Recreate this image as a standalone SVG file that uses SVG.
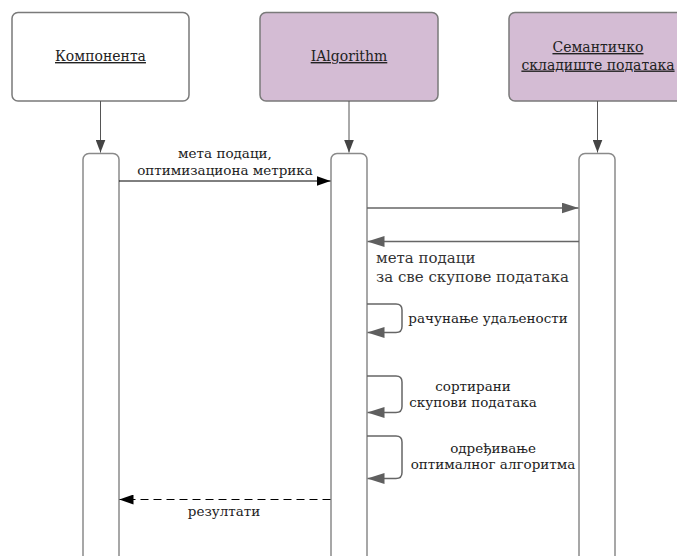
<svg xmlns="http://www.w3.org/2000/svg" width="677" height="556" viewBox="0 0 677 556">
  <style>
    .head { stroke: #7a7a7a; stroke-width: 1.5; }
    .white { fill: #ffffff; }
    .purple { fill: #d4bcd4; }
    .title { font-family: "DejaVu Serif", "Liberation Serif", serif; font-size: 14px; fill: #222; text-anchor: middle; text-decoration: underline; }
    .life { stroke: #555; stroke-width: 1; fill: none; }
    .act { fill: #fff; stroke: #8a8a8a; stroke-width: 1.5; }
    .msg { stroke: #000; stroke-width: 1; fill: none; }
    .msg2 { stroke: #666; stroke-width: 1.5; fill: none; }
    .ret { stroke: #000; stroke-width: 1; fill: none; stroke-dasharray: 8 5; }
    .lbl { font-family: "DejaVu Serif", "Liberation Serif", serif; font-size: 13.5px; fill: #222; text-anchor: middle; }
    .lbl-big { font-family: "DejaVu Serif", "Liberation Serif", serif; font-size: 15px; fill: #333; }
  </style>
  <defs>
    <marker id="arrowDark" markerUnits="userSpaceOnUse" markerWidth="14" markerHeight="10" refX="14" refY="5" orient="auto">
      <path d="M0,0 L14,5 L0,10 Z" fill="#000"/>
    </marker>
    <marker id="arrowGray" markerUnits="userSpaceOnUse" markerWidth="17" markerHeight="11" refX="17" refY="5.5" orient="auto">
      <path d="M0,0 L17,5.5 L0,11 Z" fill="#5f5f5f"/>
    </marker>
    <marker id="arrowLife" markerUnits="userSpaceOnUse" markerWidth="13" markerHeight="10" refX="13" refY="5" orient="auto">
      <path d="M0,0 L13,5 L0,10 Z" fill="#444"/>
    </marker>
  </defs>

  <!-- participants -->
  <g id="komponenta">
    <rect class="head white" x="12" y="12.5" width="177" height="88.5" rx="6"/>
    <text class="title" x="100.5" y="61">Компонента</text>
    <rect class="act" x="83" y="153.5" width="36" height="420" rx="6"/>
  </g>
  <g id="ialgorithm">
    <rect class="head purple" x="260" y="12.5" width="178" height="88.5" rx="6"/>
    <text class="title" x="349" y="61">IAlgorithm</text>
    <rect class="act" x="331" y="153.5" width="36" height="420" rx="6"/>
  </g>
  <g id="skladiste">
    <rect class="head purple" x="509" y="12.5" width="178" height="88.5" rx="6"/>
    <text class="title" x="598" y="52">Семантичко</text>
    <text class="title" x="598" y="69.5">складиште података</text>
    <rect class="act" x="579" y="153.5" width="36" height="420" rx="6"/>
  </g>

  <!-- connectors -->
  <g id="connectors">
    <path class="life" d="M100.5,101 V152.5" marker-end="url(#arrowLife)"/>
    <path class="life" d="M349,101 V152.5" marker-end="url(#arrowLife)"/>
    <path class="life" d="M597.5,101 V152.5" marker-end="url(#arrowLife)"/>

    <path class="msg" d="M119,181 H330.5" marker-end="url(#arrowDark)"/>
    <path class="msg2" d="M367,208 H578.5" marker-end="url(#arrowGray)"/>
    <path class="msg2" d="M579,241.5 H367.5" marker-end="url(#arrowGray)"/>

    <path class="msg2" d="M367,304 H396 Q402,304 402,310 V326.5 Q402,332.5 396,332.5 H367.5" marker-end="url(#arrowGray)"/>
    <path class="msg2" d="M367,376 H396 Q402,376 402,382 V406.5 Q402,412.5 396,412.5 H367.5" marker-end="url(#arrowGray)"/>
    <path class="msg2" d="M367,436 H396 Q402,436 402,442 V472.5 Q402,478.5 396,478.5 H367.5" marker-end="url(#arrowGray)"/>

    <path class="ret" d="M330.5,499.5 H119.5" marker-end="url(#arrowDark)"/>
  </g>

  <!-- message labels -->
  <g id="labels">
    <text class="lbl" x="225" y="158">мета подаци,</text>
    <text class="lbl" x="225" y="174.5">оптимизациона метрика</text>
    <text class="lbl-big" x="376" y="263">мета подаци</text>
    <text class="lbl-big" x="376" y="281.5">за све скупове података</text>
    <text class="lbl" x="488" y="323">рачунање удаљености</text>
    <text class="lbl" x="473" y="391">сортирани</text>
    <text class="lbl" x="473" y="407">скупови података</text>
    <text class="lbl" x="493" y="453">одређивање</text>
    <text class="lbl" x="493" y="469">оптималног алгоритма</text>
    <text class="lbl" x="224" y="516">резултати</text>
  </g>
</svg>
